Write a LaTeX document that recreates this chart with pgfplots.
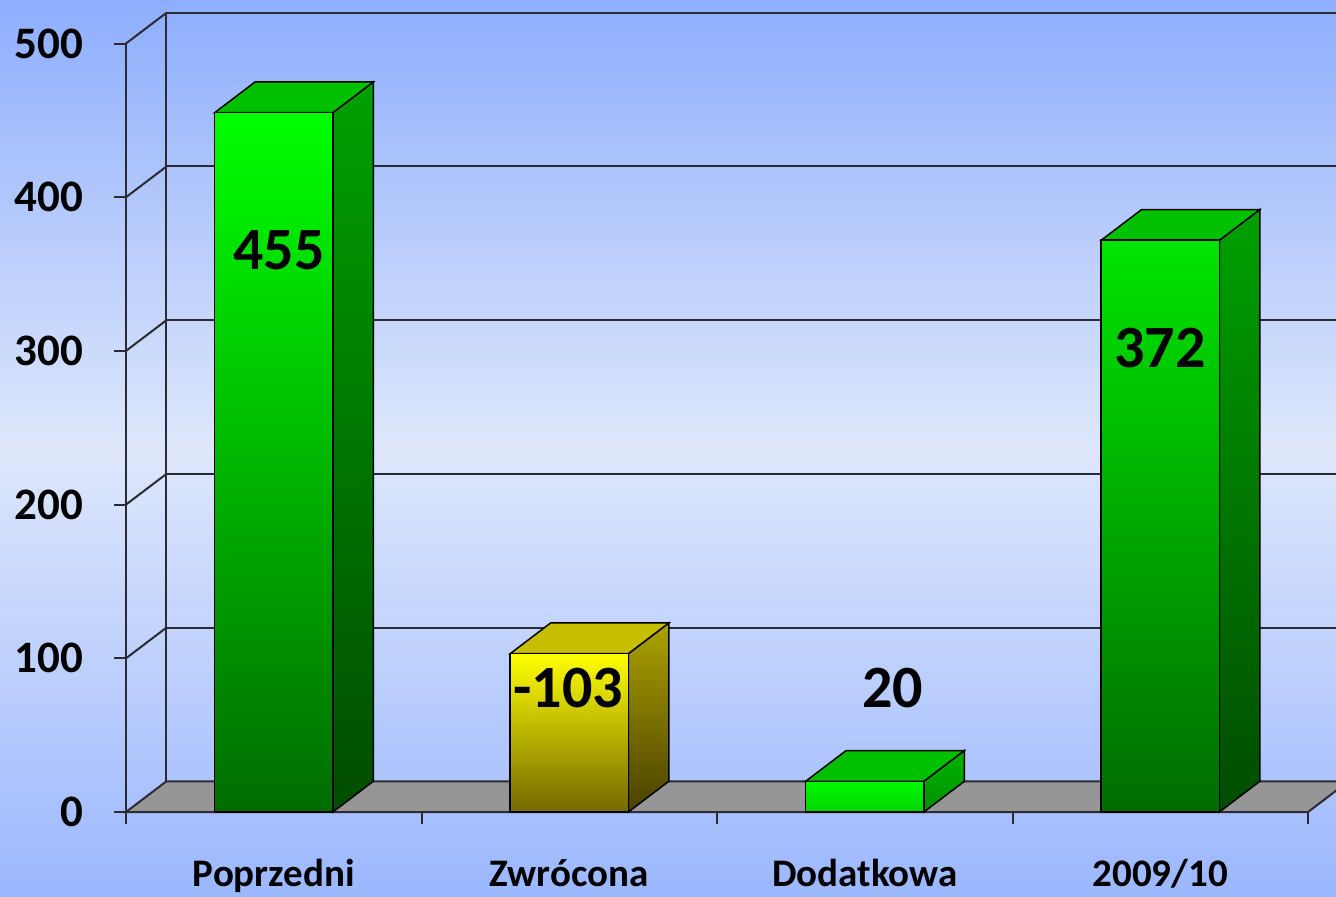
\documentclass[border=0pt]{standalone}
\usepackage{fontspec}
\setmainfont{Carlito}
\usepackage{pgfplots}
\pgfplotsset{compat=1.18}
\definecolor{bgtop}{HTML}{8EAEFD}
\definecolor{bgmid}{HTML}{DEE7FB}
\definecolor{bgbot}{HTML}{9BB7FE}
\definecolor{gridc}{HTML}{2B2B35}
\definecolor{floorc}{HTML}{969696}
\definecolor{gfront}{HTML}{00FF00}
\definecolor{gfrontb}{HTML}{006C00}
\definecolor{gtop}{HTML}{00C000}
\definecolor{gside}{HTML}{00A000}
\definecolor{gsideb}{HTML}{004C00}
\definecolor{g3front}{HTML}{00FA00}
\definecolor{g3frontb}{HTML}{00D400}
\definecolor{g3side}{HTML}{00B400}
\definecolor{g3sideb}{HTML}{009000}
\definecolor{yfront}{HTML}{FFFF00}
\definecolor{yfrontb}{HTML}{746800}
\definecolor{ytop}{HTML}{C8BE00}
\definecolor{yside}{HTML}{ACA200}
\definecolor{ysideb}{HTML}{4A4000}
\begin{document}
\begin{tikzpicture}
\shade[top color=bgtop, bottom color=bgbot, middle color=bgmid] (-63pt,-42pt) rectangle (605pt,406pt);
\begin{axis}[
  scale only axis, width=591pt, height=384.25pt,
  xmin=0, xmax=4, ymin=0, ymax=500,
  axis x line*=bottom, axis y line*=left,
  axis line style={gridc, line width=1pt, -},
  clip=false,
  ytick={0,100,...,500},
  xtick={0,1,2,3,4}, xticklabels={},
  extra x ticks={0.5,1.5,2.5,3.5},
  extra x tick labels={Poprzedni,Zwrócona,Dodatkowa,2009/10},
  extra x tick style={major tick length=0pt, tick label style={yshift=-20pt}},
  tick align=outside, major tick length=6pt,
  tick style={gridc, line width=1pt},
  yticklabel style={font=\fontsize{22.5}{24}\selectfont\bfseries, xshift=-12pt},
  xticklabel style={font=\fontsize{19.5}{20}\selectfont\bfseries},
  /pgf/number format/assume math mode=true,
]
% left wall diagonals
\addplot[gridc, line width=1pt] coordinates {(0,100) (0.137,120)};
\addplot[gridc, line width=1pt] coordinates {(0,200) (0.137,220)};
\addplot[gridc, line width=1pt] coordinates {(0,300) (0.137,320)};
\addplot[gridc, line width=1pt] coordinates {(0,400) (0.137,420)};
\addplot[gridc, line width=1pt] coordinates {(0,500) (0.137,520)};
\addplot[gridc, line width=1pt] coordinates {(0.137,20) (0.137,520)};
% back wall grid
\addplot[gridc, line width=1pt] coordinates {(0.137,120) (4.0948,120)};
\addplot[gridc, line width=1pt] coordinates {(0.137,220) (4.0948,220)};
\addplot[gridc, line width=1pt] coordinates {(0.137,320) (4.0948,320)};
\addplot[gridc, line width=1pt] coordinates {(0.137,420) (4.0948,420)};
\addplot[gridc, line width=1pt] coordinates {(0.137,520) (4.0948,520)};
% floor
\addplot[fill=floorc, draw=gridc, line width=1pt] coordinates {(0,0) (4,0) (4.137,20) (0.137,20)} -- cycle;
% bar 1 (455)
\addplot[draw=black, line width=0.75pt, top color=gside, bottom color=gsideb] coordinates {(0.7,0) (0.7,455) (0.837,475) (0.837,20)} -- cycle;
\addplot[draw=black, line width=0.75pt, fill=gtop] coordinates {(0.3,455) (0.7,455) (0.837,475) (0.437,475)} -- cycle;
% bar 2 (103)
\addplot[draw=black, line width=0.75pt, top color=yside, bottom color=ysideb] coordinates {(1.7,0) (1.7,103) (1.837,123) (1.837,20)} -- cycle;
\addplot[draw=black, line width=0.75pt, fill=ytop] coordinates {(1.3,103) (1.7,103) (1.837,123) (1.437,123)} -- cycle;
% bar 3 (20)
\addplot[draw=black, line width=0.75pt, top color=g3side, bottom color=g3sideb] coordinates {(2.7,0) (2.7,20) (2.837,40) (2.837,20)} -- cycle;
\addplot[draw=black, line width=0.75pt, fill=gtop] coordinates {(2.3,20) (2.7,20) (2.837,40) (2.437,40)} -- cycle;
% bar 4 (372)
\addplot[draw=black, line width=0.75pt, top color=gside, bottom color=gsideb] coordinates {(3.7,0) (3.7,372) (3.837,392) (3.837,20)} -- cycle;
\addplot[draw=black, line width=0.75pt, fill=gtop] coordinates {(3.3,372) (3.7,372) (3.837,392) (3.437,392)} -- cycle;
% front faces
\addplot[ybar, bar width=0.4, bar shift=0, draw=black, line width=0.75pt, top color=gfront, bottom color=gfrontb] coordinates {(0.5,455) (3.5,372)};
\addplot[ybar, bar width=0.4, bar shift=0, draw=black, line width=0.75pt, top color=yfront, bottom color=yfrontb] coordinates {(1.5,103)};
\addplot[ybar, bar width=0.4, bar shift=0, draw=black, line width=0.75pt, top color=g3front, bottom color=g3frontb] coordinates {(2.5,20)};
% value labels
\node[font=\fontsize{30}{30}\selectfont\bfseries] at (axis cs:0.518,365.6) {455};
\node[font=\fontsize{30}{30}\selectfont\bfseries] at (axis cs:1.497,80.7) {-103};
\node[font=\fontsize{30}{30}\selectfont\bfseries] at (axis cs:2.594,80.7) {20};
\node[font=\fontsize{30}{30}\selectfont\bfseries] at (axis cs:3.499,301.9) {372};
\end{axis}
\pgfresetboundingbox
\path[use as bounding box] (-63pt,-42pt) rectangle (605pt,406pt);
\end{tikzpicture}
\end{document}
